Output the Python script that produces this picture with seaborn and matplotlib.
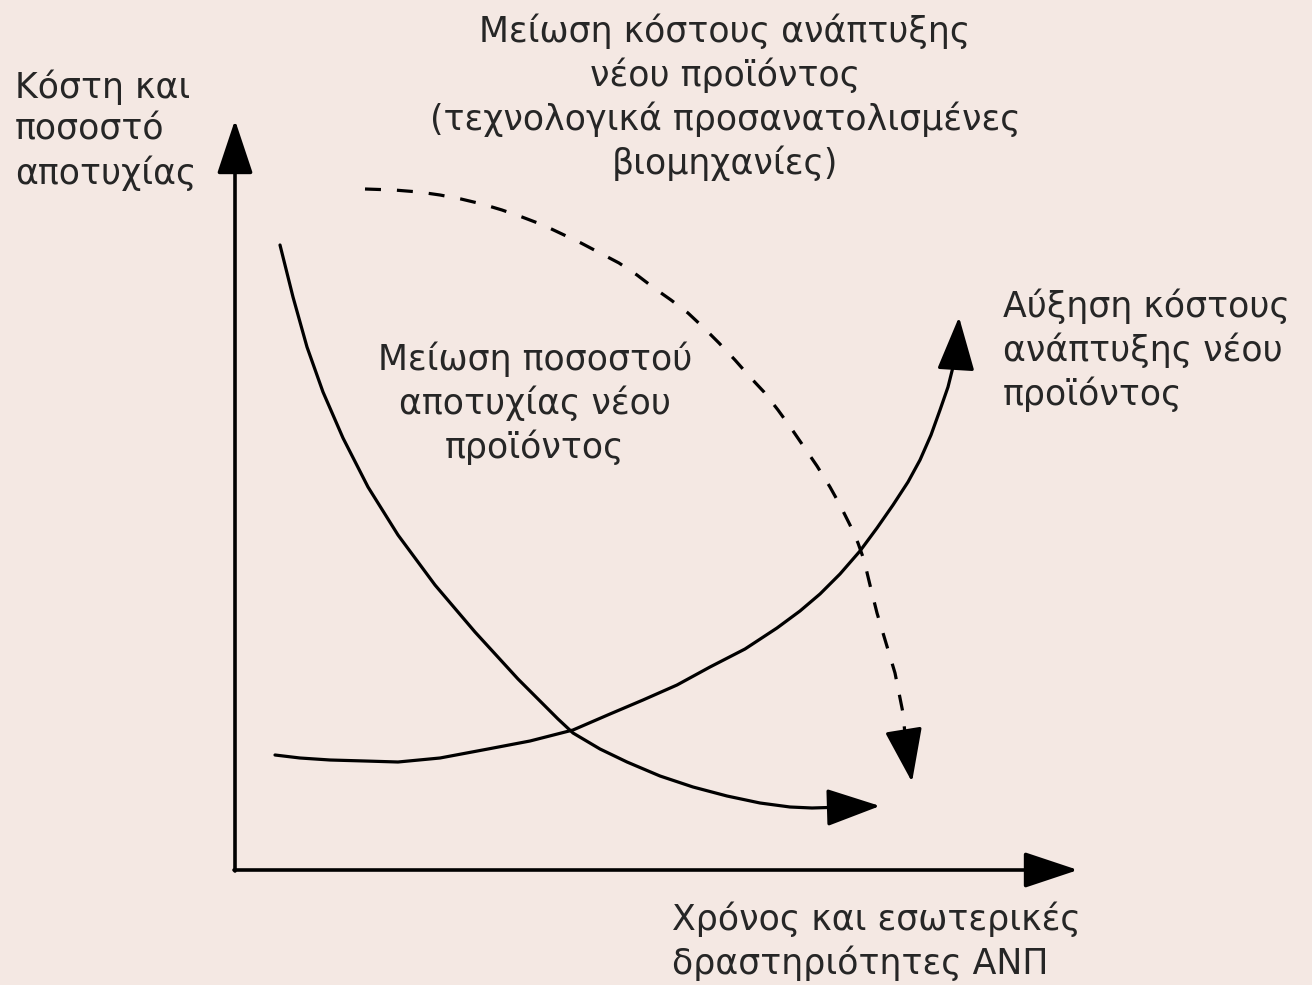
import matplotlib
matplotlib.use('Agg')
from matplotlib import pyplot as plt
import pandas as pd
import seaborn as sns

# curve points (pixel-like units, y grows downwards)
# last point of each list is the arrow tip
failure_x = [280, 293, 307, 323, 343, 368, 398, 435, 475, 518, 558, 573,
             600, 627, 660, 693, 727, 760, 790, 812, 845, 880]
failure_y = [245, 297, 347, 392, 438, 487, 535, 585, 632, 679, 719, 733,
             749, 762, 776, 787, 796, 803, 807, 808, 807, 806]

cost_up_x = [275, 300, 330, 365, 398, 440, 488, 530, 573, 610, 643, 677,
             710, 745, 777, 800, 820, 840, 860, 877, 893, 908, 920, 931,
             940, 948, 953, 957, 959]
cost_up_y = [755, 758, 760, 761, 762, 758, 749, 741, 730, 714, 700, 685,
             667, 649, 628, 611, 594, 574, 551, 528, 505, 482, 460, 435,
             410, 387, 367, 350, 317]

cost_down_x = [365, 394, 419, 440, 461, 482, 502, 522, 543, 562, 581, 600,
               619, 637, 654, 671, 688, 704, 719, 735, 750, 764, 778, 791,
               804, 817, 830, 840, 850, 858, 864, 870, 877, 883, 889, 895,
               899, 903, 906, 912]
cost_down_y = [189, 190, 192, 195, 199, 204, 210, 217, 225, 234, 243, 253,
               263, 275, 288, 300, 313, 328, 343, 360, 377, 392, 410, 428,
               447, 466, 487, 505, 525, 543, 560, 585, 613, 633, 653, 673,
               693, 713, 745, 782]

axis_origin = (235, 870)
axis_x_end = 1078
axis_y_end = 120

label_y_axis = 'Κόστη και\nποσοστό\nαποτυχίας'
label_x_axis = 'Χρόνος και εσωτερικές\nδραστηριότητες ΑΝΠ'
label_cost_down = 'Μείωση κόστους ανάπτυξης\nνέου προϊόντος\n(τεχνολογικά προσανατολισμένες\nβιομηχανίες)'
label_failure = 'Μείωση ποσοστού\nαποτυχίας νέου\nπροϊόντος'
label_cost_up = 'Αύξηση κόστους\nανάπτυξης νέου\nπροϊόντος'

BG = '#f4e8e3'


def add_curve(ax, xs, ys, dashed=False):
    df = pd.DataFrame({'x': xs, 'y': ys})
    ls = (0, (5, 5)) if dashed else '-'
    # leave the last stretch for the arrow head
    sns.lineplot(data=df.iloc[:-1], x='x', y='y', sort=False, ax=ax,
                 color='black', lw=2.3, linestyle=ls, estimator=None)
    ax.annotate('', xy=(xs[-1], ys[-1]), xytext=(xs[-2], ys[-2]),
                arrowprops=dict(arrowstyle='-|>,head_length=1.2,head_width=0.42',
                                color='black', lw=2.3, mutation_scale=28,
                                shrinkA=0, shrinkB=0))


def main():
    sns.set_theme(style='white')
    plt.rcParams['font.family'] = ['DejaVu Sans']

    fig = plt.figure(figsize=(13.12, 9.85), dpi=100, facecolor=BG)
    ax = fig.add_axes([0, 0, 1, 1])
    ax.set_facecolor(BG)
    ax.set_xlim(0, 1312)
    ax.set_ylim(985, 0)
    ax.axis('off')

    # axes with arrow heads
    ox, oy = axis_origin
    ax.annotate('', xy=(axis_x_end, oy), xytext=(ox - 1, oy),
                arrowprops=dict(arrowstyle='-|>,head_length=1.2,head_width=0.4',
                                color='black', lw=2.6, mutation_scale=28,
                                shrinkA=0, shrinkB=0))
    ax.annotate('', xy=(ox, axis_y_end), xytext=(ox, oy + 1),
                arrowprops=dict(arrowstyle='-|>,head_length=1.2,head_width=0.4',
                                color='black', lw=2.6, mutation_scale=28,
                                shrinkA=0, shrinkB=0))

    add_curve(ax, failure_x, failure_y)
    add_curve(ax, cost_up_x, cost_up_y)
    add_curve(ax, cost_down_x, cost_down_y, dashed=True)

    fs = 25
    lsp = 1.3
    ax.text(15, 130, label_y_axis, fontsize=fs, ha='left', va='center', linespacing=lsp)
    ax.text(725, 97, label_cost_down, fontsize=fs, ha='center', va='center',
            multialignment='center', linespacing=lsp)
    ax.text(535, 403, label_failure, fontsize=fs, ha='center', va='center',
            multialignment='center', linespacing=lsp)
    ax.text(1003, 350, label_cost_up, fontsize=fs, ha='left', va='center', linespacing=lsp)
    ax.text(672, 941, label_x_axis, fontsize=fs, ha='left', va='center', linespacing=lsp)

    fig.savefig('out.png', dpi=100, facecolor=BG)
    plt.close(fig)


if __name__ == "__main__":
    main()
